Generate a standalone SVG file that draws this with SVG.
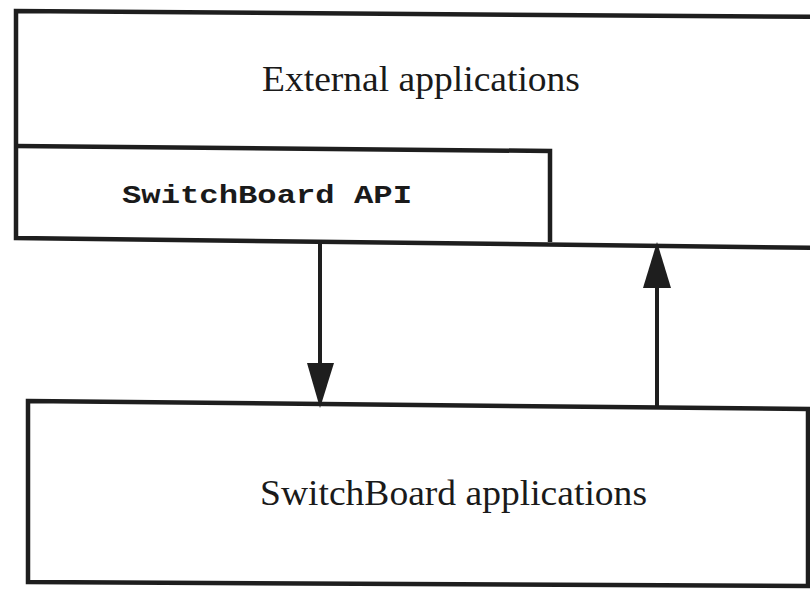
<svg xmlns="http://www.w3.org/2000/svg" width="810" height="589" viewBox="0 0 810 589">
  <defs>
    <style>
      .frame { fill: none; stroke: #1e1e1e; stroke-width: 4.5; stroke-linejoin: miter; }
      .link { stroke: #1e1e1e; stroke-width: 4; fill: none; }
      .head { fill: #1e1e1e; stroke: none; }
      .label { font-family: "Liberation Serif", "Times New Roman", serif; font-size: 36px; fill: #1a1a1a; }
      .code { font-family: "Liberation Mono", "Courier New", monospace; font-weight: bold; font-size: 26px; fill: #1a1a1a; }
    </style>
  </defs>
  <rect width="810" height="589" fill="#ffffff"/>

  <!-- outer layer: external applications (runs off the right edge) -->
  <g id="external-applications">
    <path class="frame" d="M 830 17 L 16 11 L 16 238 L 830 248"/>
    <text class="label" x="262" y="91" textLength="318" lengthAdjust="spacingAndGlyphs">External applications</text>
  </g>

  <!-- API band inside the outer layer -->
  <g id="switchboard-api">
    <path class="frame" d="M 16 146 L 550 151 L 550 242"/>
    <text class="code" x="122" y="203" textLength="290" lengthAdjust="spacingAndGlyphs">SwitchBoard API</text>
  </g>

  <!-- lower layer: SwitchBoard applications -->
  <g id="switchboard-applications">
    <path class="frame" d="M 28 401 L 808 409 L 808 586 L 28 582 Z"/>
    <text class="label" x="260" y="505" textLength="387" lengthAdjust="spacingAndGlyphs">SwitchBoard applications</text>
  </g>

  <!-- connectors between the layers -->
  <g id="connectors">
    <line class="link" x1="320" y1="240" x2="320" y2="370"/>
    <polygon class="head" points="307,363 334,363 320,408"/>
    <line class="link" x1="657" y1="406" x2="657" y2="280"/>
    <polygon class="head" points="643,288 671,288 657,242"/>
  </g>
</svg>
